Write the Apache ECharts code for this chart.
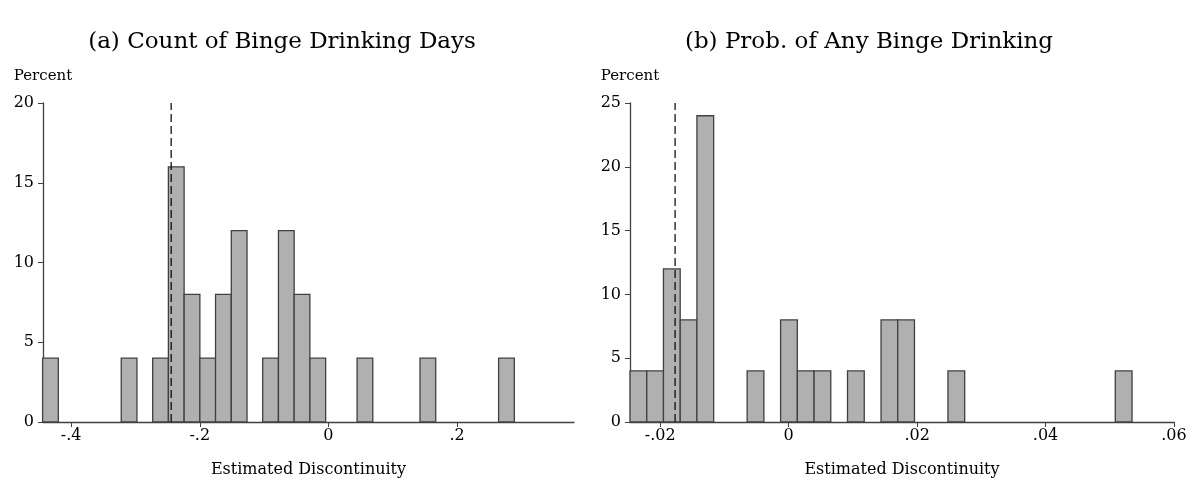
<!DOCTYPE html>
<html>
<head>
<meta charset="utf-8">
<script src="https://cdn.jsdelivr.net/npm/echarts@6/dist/echarts.min.js"></script>
<style>
  html, body { margin: 0; padding: 0; background: #fff; }
  #chart { width: 1199px; height: 486px; }
</style>
</head>
<body>
<div id="chart"></div>
<script>
// (a) count of binge drinking days: left edge of each non-empty bin and its percent
const binStartsA = [-0.4443, -0.3221, -0.2732, -0.2488, -0.2243, -0.1999, -0.1755, -0.1510,
  -0.1022, -0.0777, -0.0533, -0.0288, 0.0445, 0.1423, 0.2645]
const percentsA = [4, 4, 4, 16, 8, 4, 8, 12, 4, 12, 8, 4, 4, 4, 4]
const binWidthA = 0.02444
const cutoffA = -0.2445
const xTicksA = [-0.4, -0.2, 0, 0.2]

// (b) prob. of any binge drinking
const binStartsB = [-0.02471, -0.02210, -0.01950, -0.01689, -0.01429, -0.00647, -0.00126,
  0.00135, 0.00395, 0.00916, 0.01438, 0.01698, 0.02480, 0.05086]
const percentsB = [4, 4, 12, 8, 24, 4, 8, 4, 4, 4, 8, 8, 4, 4]
const binWidthB = 0.002606
const cutoffB = -0.01769
const xTicksB = [-0.02, 0, 0.02, 0.04, 0.06]

const FONT = 'DejaVu Serif'
const INK = '#404040'

// stata style labels: -.4, .02, 0
const fmt = v => {
  if (Math.abs(v) < 1e-12) return '0'
  return String(+v.toFixed(4)).replace(/^(-?)0\./, '$1.')
}

const histSeries = (idx, starts, vals, width) => ({
  type: 'custom',
  xAxisIndex: idx,
  yAxisIndex: idx,
  data: starts.map((s, i) => [s, s + width, vals[i]]),
  renderItem: (params, api) => {
    const p0 = api.coord([api.value(0), 0])
    const p1 = api.coord([api.value(1), api.value(2)])
    return {
      type: 'rect',
      shape: { x: p0[0], y: p1[1], width: p1[0] - p0[0], height: p0[1] - p1[1] },
      style: { fill: '#b0b0b0', stroke: INK, lineWidth: 1.3 }
    }
  },
  encode: { x: [0, 1], y: 2 },
  silent: true
})

const cutoffSeries = (idx, x, top) => ({
  type: 'line',
  xAxisIndex: idx,
  yAxisIndex: idx,
  data: [[x, 0], [x, top]],
  symbol: 'none',
  lineStyle: { color: '#000', width: 1.2, type: [8, 4] },
  silent: true,
  z: 5
})

const xAxisCfg = (idx, min, max, ticks) => ({
  gridIndex: idx,
  type: 'value',
  min, max,
  name: 'Estimated Discontinuity',
  nameLocation: 'middle',
  nameGap: 40,
  nameTextStyle: { fontFamily: FONT, fontSize: 16, color: '#000' },
  axisLine: { onZero: false, lineStyle: { color: INK, width: 1.3 } },
  axisTick: { show: true, length: 5, customValues: ticks, lineStyle: { color: INK } },
  axisLabel: { customValues: ticks, formatter: fmt, fontFamily: FONT, fontSize: 16, color: '#000', margin: 6 },
  splitLine: { show: false }
})

const yAxisCfg = (idx, max) => ({
  gridIndex: idx,
  type: 'value',
  min: 0, max, interval: 5,
  name: 'Percent',
  nameLocation: 'end',
  nameGap: 19,
  nameTextStyle: { fontFamily: FONT, fontSize: 15, color: '#000' },
  axisLine: { show: true, onZero: false, lineStyle: { color: INK, width: 1.3 } },
  axisTick: { show: true, length: 5, lineStyle: { color: INK } },
  axisLabel: { fontFamily: FONT, fontSize: 16, color: '#000', margin: 9 },
  splitLine: { show: false }
})

const chart = echarts.init(document.getElementById('chart'))
chart.setOption({
  animation: false,
  title: [
    { text: '(a) Count of Binge Drinking Days', left: 277, top: 26, textAlign: 'center',
      textStyle: { fontFamily: FONT, fontSize: 23, fontWeight: 'normal', color: '#000' } },
    { text: '(b) Prob. of Any Binge Drinking', left: 864, top: 26, textAlign: 'center',
      textStyle: { fontFamily: FONT, fontSize: 23, fontWeight: 'normal', color: '#000' } }
  ],
  grid: [
    { left: 43, top: 103, width: 531, height: 319 },
    { left: 630, top: 103, width: 544, height: 319 }
  ],
  xAxis: [
    xAxisCfg(0, -0.4437, 0.3817, xTicksA),
    xAxisCfg(1, -0.02471, 0.06, xTicksB)
  ],
  yAxis: [yAxisCfg(0, 20), yAxisCfg(1, 25)],
  series: [
    histSeries(0, binStartsA, percentsA, binWidthA),
    cutoffSeries(0, cutoffA, 20),
    histSeries(1, binStartsB, percentsB, binWidthB),
    cutoffSeries(1, cutoffB, 25)
  ]
})
</script>
</body>
</html>
